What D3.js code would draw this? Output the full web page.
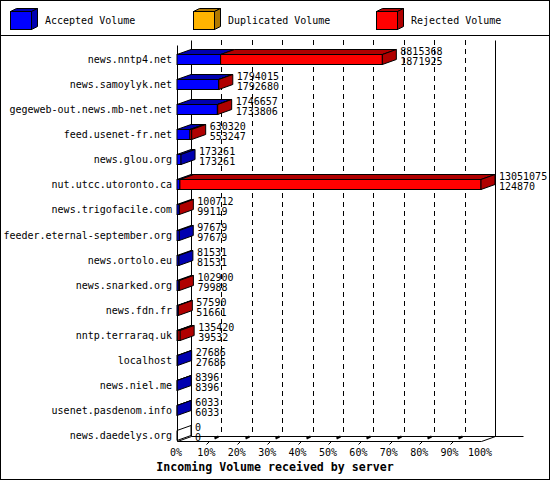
<!DOCTYPE html>
<html>
<head>
<meta charset="utf-8">
<script src="https://cdn.jsdelivr.net/npm/d3@7"></script>
<style>
  body { margin: 0; background: #fff; }
  text { font-family: "DejaVu Sans Mono", monospace; font-size: 10px; fill: #000; }
</style>
</head>
<body>
<script>
// servers, top to bottom
var servers = ["news.nntp4.net", "news.samoylyk.net", "gegeweb-out.news.mb-net.net",
  "feed.usenet-fr.net", "news.glou.org", "nut.utcc.utoronto.ca", "news.trigofacile.com",
  "feeder.eternal-september.org", "news.ortolo.eu", "news.snarked.org", "news.fdn.fr",
  "nntp.terraraq.uk", "localhost", "news.niel.me", "usenet.pasdenom.info", "news.daedelys.org"];

// incoming volume (upper number) and accepted volume (lower number)
var incoming = [8815368, 1794015, 1746657, 630320, 173261, 13051075, 100712, 97679,
  81531, 102900, 57590, 135420, 27686, 8396, 6033, 0];
var accepted = [1871925, 1792680, 1733806, 553247, 173261, 124870, 99119, 97679,
  81531, 79988, 51661, 39532, 27686, 8396, 6033, 0];
var duplicated = [0, 0, 0, 0, 0, 0, 0, 0, 0, 0, 0, 0, 0, 0, 0, 0];
var rejected = [6943443, 1335, 12851, 77073, 0, 12926205, 1593, 0,
  0, 22912, 5929, 95888, 0, 0, 0, 0];

var legendNames = ["Accepted Volume", "Duplicated Volume", "Rejected Volume"];
var percentTicks = [0, 10, 20, 30, 40, 50, 60, 70, 80, 90, 100];

// colours: front face and darker faces
var front = ["#0000ff", "#ffb400", "#ff0000"];
var dark = ["#0000b0", "#b07800", "#b00000"];

var w = 550, h = 480;
var dx = 14, dy = -5;      // 3d depth
var plotLeft = 177, plotRight = 481;
var plotTop = 40, floorY = 441;

var svg = d3.select("body").append("svg")
  .attr("width", w).attr("height", h);

// frame + legend separator
svg.append("rect").attr("x", 0.5).attr("y", 0.5).attr("width", w - 1).attr("height", h - 1)
  .attr("fill", "none").attr("stroke", "#000");
svg.append("line").attr("x1", 0).attr("x2", w).attr("y1", 35.5).attr("y2", 35.5)
  .attr("stroke", "#000");

// legend
var lx = [10, 193, 376];
legendNames.forEach(function(name, i) {
  var g = svg.append("g");
  var x0 = lx[i] + 0.5, y0 = 11.5, bw = 21, bh = 18, ddx = 6, ddy = -3;
  g.append("polygon")
    .attr("points", [[x0, y0], [x0 + ddx, y0 + ddy], [x0 + bw + ddx, y0 + ddy], [x0 + bw, y0]].join(" "))
    .attr("fill", dark[i]).attr("stroke", "#000");
  g.append("polygon")
    .attr("points", [[x0 + bw, y0], [x0 + bw + ddx, y0 + ddy], [x0 + bw + ddx, y0 + bh + ddy], [x0 + bw, y0 + bh]].join(" "))
    .attr("fill", dark[i]).attr("stroke", "#000");
  g.append("rect").attr("x", x0).attr("y", y0).attr("width", bw).attr("height", bh)
    .attr("fill", front[i]).attr("stroke", "#000");
  g.append("text").attr("x", lx[i] + 35).attr("y", 24).text(name);
});

// scales
var xScale = d3.scaleLinear().domain([0, d3.max(incoming)]).range([plotLeft, plotRight]);
var pScale = d3.scaleLinear().domain([0, 100]).range([plotLeft, plotRight]);
var yScale = d3.scaleBand().domain(servers).range([plotTop, floorY]);
var step = yScale.step();

// dashed grid on the back wall
svg.selectAll(".grid")
  .data(percentTicks.slice(1, -1))
  .enter().append("line")
  .attr("x1", function(d) { return Math.round(pScale(d)) + dx + 0.5; })
  .attr("x2", function(d) { return Math.round(pScale(d)) + dx + 0.5; })
  .attr("y1", plotTop).attr("y2", floorY + dy)
  .attr("stroke", "#000").attr("stroke-dasharray", "5,4");

// walls and floor
var lines = [
  [plotLeft + dx, plotTop, plotLeft + dx, floorY + dy],
  [plotRight + dx, plotTop, plotRight + dx, floorY + dy],
  [plotLeft, plotTop + 5, plotLeft, floorY],
  [plotLeft + dx, floorY + dy, 523, floorY + dy],
  [plotLeft, floorY, plotRight, floorY],
  [plotLeft, floorY, plotLeft + dx, floorY + dy],
  [plotRight, floorY, plotRight + dx, floorY + dy]
];
svg.selectAll(".wall")
  .data(lines)
  .enter().append("line")
  .attr("x1", function(d) { return d[0] + 0.5; })
  .attr("y1", function(d) { return d[1] + 0.5; })
  .attr("x2", function(d) { return d[2] + 0.5; })
  .attr("y2", function(d) { return d[3] + 0.5; })
  .attr("stroke", "#000");

// floor ticks
percentTicks.slice(1, -1).forEach(function(p) {
  var x = Math.round(pScale(p)) + 0.5;
  svg.append("line").attr("x1", x - 1).attr("y1", floorY + 3.5).attr("x2", x + 2).attr("y2", floorY + 0.5)
    .attr("stroke", "#000");
  svg.append("line").attr("x1", x + 7).attr("y1", floorY - 2.5).attr("x2", x + 11).attr("y2", floorY - 4.5)
    .attr("stroke", "#000").attr("stroke-width", 2);
});

// tick labels
svg.selectAll(".tick")
  .data(percentTicks)
  .enter().append("text")
  .attr("x", function(d) { return pScale(d) - 1; })
  .attr("y", 456)
  .attr("text-anchor", "middle")
  .text(function(d) { return d + "%"; });

// axis title
svg.append("text").attr("x", 275).attr("y", 471)
  .attr("text-anchor", "middle")
  .style("font-size", "11.6px").style("font-weight", "bold")
  .text("Incoming Volume received by server");

function pts(a) { return a.map(function(p) { return p.join(","); }).join(" "); }

// bars
servers.forEach(function(name, i) {
  var fb = Math.round(yScale(name) + step - 1) + 0.5;
  var ft = fb - 10;
  var segs = [accepted[i], duplicated[i], rejected[i]];
  var x = xScale(0), last = 0;
  var g = svg.append("g");

  segs.forEach(function(v, k) {
    if (v <= 0) return;
    var xa = x, xb = xScale(d3.sum(segs.slice(0, k + 1)));
    g.append("polygon")
      .attr("points", pts([[xa, ft], [xa + dx, ft + dy], [xb + dx, ft + dy], [xb, ft]]))
      .attr("fill", dark[k]).attr("stroke", "#000");
    g.append("rect").attr("x", xa).attr("y", ft).attr("width", xb - xa).attr("height", fb - ft)
      .attr("fill", front[k]).attr("stroke", "#000");
    x = xb;
    last = k;
  });

  var xe = xScale(incoming[i]);
  g.append("polygon")
    .attr("points", pts([[xe, ft], [xe + dx, ft + dy], [xe + dx, fb + dy], [xe, fb]]))
    .attr("fill", incoming[i] > 0 ? dark[last] : "none").attr("stroke", "#000");

  // category label
  svg.append("text").attr("x", 172).attr("y", fb - 2)
    .attr("text-anchor", "end").text(name);

  // values
  svg.append("text").attr("x", xe + dx + 4).attr("y", ft).text(incoming[i]);
  svg.append("text").attr("x", xe + dx + 4).attr("y", fb).text(accepted[i]);
});
</script>
</body>
</html>
